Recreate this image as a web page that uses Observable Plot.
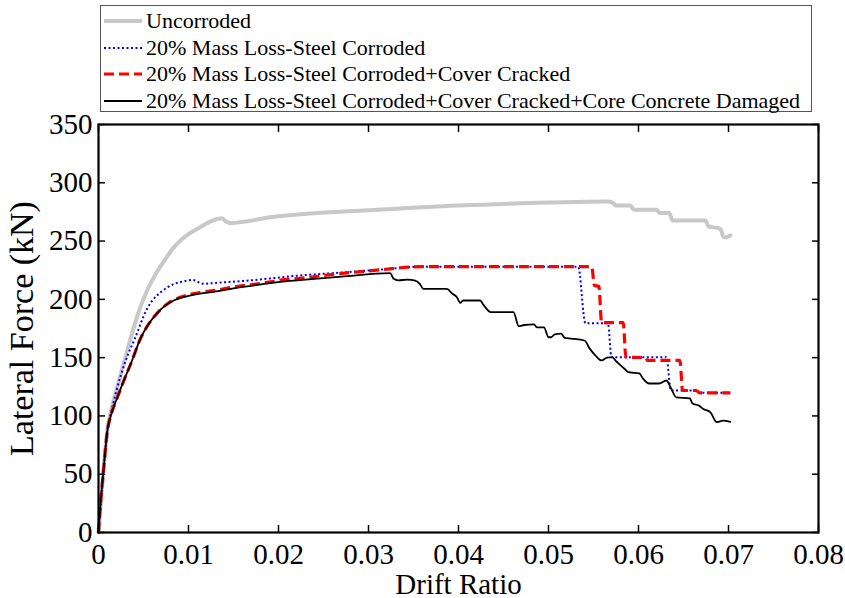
<!DOCTYPE html>
<html>
<head>
<meta charset="utf-8">
<script src="https://cdn.jsdelivr.net/npm/d3@7"></script>
<script src="https://cdn.jsdelivr.net/npm/@observablehq/plot@0.6"></script>
<style>
  html, body { margin: 0; padding: 0; background: #fff; }
  #wrap { position: relative; width: 845px; height: 598px; font-family: "Liberation Serif", "Times New Roman", serif; }
  #legend { position: absolute; left: 100px; top: 5px; width: 710px; height: 105px; border: 1px solid #555; background: #fff; box-sizing: content-box; }
  .row { position: absolute; left: 2px; height: 26px; display: flex; align-items: center; font-size: 22px; color: #000; white-space: nowrap; }
  .row svg { width: 40px; height: 10px; margin-right: 3px; flex: none; }
</style>
</head>
<body>
<div id="wrap"><div id="chart"></div><div id="legend"></div></div>
<script>
// ---- Data ----
const seriesNames = [
  "Uncorroded",
  "20% Mass Loss-Steel Corroded",
  "20% Mass Loss-Steel Corroded+Cover Cracked",
  "20% Mass Loss-Steel Corroded+Cover Cracked+Core Concrete Damaged"
];
const xTicks = [0, 0.01, 0.02, 0.03, 0.04, 0.05, 0.06, 0.07, 0.08];
const xTickLabels = ["0", "0.01", "0.02", "0.03", "0.04", "0.05", "0.06", "0.07", "0.08"];
const yTicks = [0, 50, 100, 150, 200, 250, 300, 350];

const uncDrift = [0, 0.0006, 0.001, 0.0015, 0.0021, 0.0028, 0.0036, 0.0045, 0.0054, 0.0063, 0.0073, 0.0082, 0.0091, 0.01, 0.011, 0.012, 0.0132, 0.0137, 0.0142, 0.0147, 0.0165, 0.0187, 0.0224, 0.03, 0.04, 0.05, 0.0565, 0.0571, 0.0575, 0.0591, 0.0595, 0.062, 0.0624, 0.0634, 0.0638, 0.0674, 0.0678, 0.0689, 0.0692, 0.0694, 0.0697, 0.0702];
const uncForce = [0, 58, 89, 108, 125, 145, 167.5, 190, 207.6, 221, 233, 243, 250.5, 256, 260.5, 265, 269, 269.5, 266.5, 265.3, 267, 270, 273, 276.5, 280.5, 283, 284, 283, 280.5, 280.5, 276.8, 276.8, 274, 274, 267.7, 267.7, 262.5, 261, 259, 254, 253, 254.8];

const steelDrift = [0, 0.0006, 0.001, 0.0014, 0.002, 0.003, 0.0041, 0.0054, 0.0062, 0.0069, 0.0084, 0.0095, 0.0104, 0.0108, 0.0113, 0.0117, 0.0128, 0.0165, 0.0224, 0.027, 0.0313, 0.0358, 0.045, 0.0533, 0.0541, 0.0566, 0.057, 0.0631, 0.0636, 0.0664, 0.0668, 0.0702];
const steelForce = [0, 58, 89, 103, 122, 147, 167.5, 192, 201, 206, 213.3, 215.5, 216.7, 216, 214, 213.3, 214, 216, 220.5, 223, 225.5, 228, 228, 228, 179.6, 179.6, 150.4, 150.4, 121.8, 121.8, 119.8, 119.8];

const coverDrift = [0, 0.0002, 0.0006, 0.001, 0.0014, 0.0021, 0.0028, 0.0036, 0.0047, 0.0055, 0.0065, 0.0073, 0.008, 0.009, 0.01, 0.0113, 0.0128, 0.015, 0.0187, 0.0202, 0.0224, 0.025, 0.0313, 0.0358, 0.045, 0.0548, 0.0551, 0.0556, 0.0559, 0.0583, 0.0586, 0.0608, 0.061, 0.0646, 0.0649, 0.0664, 0.0668, 0.0702];
const coverForce = [0, 22, 57, 88, 101, 116, 130, 145, 167, 178, 188, 194, 198, 201.5, 204, 206, 207.5, 210.5, 214.5, 216.5, 218, 220.5, 225.3, 228, 228, 228, 212, 211, 180, 180, 150.4, 150, 147.6, 147.6, 121.8, 121.8, 119.8, 119.8];

const coreDrift = [0, 0.0002, 0.0006, 0.001, 0.0014, 0.0021, 0.0028, 0.0036, 0.0047, 0.0055, 0.0065, 0.0073, 0.008, 0.009, 0.01, 0.0113, 0.0128, 0.015, 0.0187, 0.0202, 0.0224, 0.027, 0.0324, 0.0328, 0.0333, 0.0343, 0.0352, 0.0357, 0.0361, 0.0387, 0.0393, 0.0398, 0.0402, 0.0405, 0.0424, 0.0428, 0.0436, 0.0461, 0.0467, 0.0473, 0.0484, 0.0487, 0.0495, 0.05, 0.0503, 0.0507, 0.0514, 0.0518, 0.0525, 0.054, 0.0546, 0.0552, 0.0559, 0.0565, 0.0571, 0.0575, 0.0578, 0.0585, 0.0589, 0.0601, 0.0605, 0.0612, 0.0623, 0.0631, 0.0636, 0.0642, 0.0657, 0.066, 0.0667, 0.0672, 0.068, 0.0687, 0.0694, 0.0702];
const coreForce = [0, 22, 57, 88, 101, 116, 130, 145, 167, 178, 188, 194, 197.5, 201, 203, 205, 206.5, 209.5, 213.5, 215, 216.5, 219.5, 222.5, 217.6, 216.2, 217, 216, 213.3, 209, 209, 205, 202, 197, 199, 199, 195, 189, 189, 177, 178, 178.5, 176, 176, 167.5, 167.5, 170, 170.6, 167, 166.4, 164.7, 157.5, 152, 147.6, 150, 150.4, 147, 144.8, 140, 137.5, 136.4, 132, 127.8, 127.8, 130.4, 124, 116, 115, 110.6, 109, 106, 103, 94.6, 96, 95];

// ---- Styles ----
const styles = [
  {stroke: "#c8c8c8", strokeWidth: 4, dash: null},
  {stroke: "#0000ff", strokeWidth: 2, dash: "2,2.5"},
  {stroke: "#ff0000", strokeWidth: 3.2, dash: "10,5"},
  {stroke: "#000000", strokeWidth: 1.8, dash: null}
];

const toRows = (xs, ys) => xs.map((x, i) => ({x, y: ys[i]}));
const series = [
  toRows(uncDrift, uncForce),
  toRows(steelDrift, steelForce),
  toRows(coverDrift, coverForce),
  toRows(coreDrift, coreForce)
];

const fmtX = d => xTickLabels[xTicks.indexOf(d)] ?? String(d);

const lineMarks = series.map((data, i) => Plot.line(data, {
  x: "x", y: "y",
  curve: "monotone-x",
  stroke: styles[i].stroke,
  strokeWidth: styles[i].strokeWidth,
  strokeDasharray: styles[i].dash,
  strokeLinejoin: "round",
  strokeLinecap: styles[i].dash ? "butt" : "round"
}));

const chart = Plot.plot({
  width: 845,
  height: 598,
  marginTop: 124,
  marginLeft: 98,
  marginRight: 27,
  marginBottom: 66,
  style: {fontFamily: "'Liberation Serif', 'Times New Roman', serif", fontSize: "29px", color: "#000", background: "#fff", overflow: "visible"},
  x: {domain: [0, 0.08]},
  y: {domain: [0, 350]},
  marks: [
    ...lineMarks,
    Plot.axisX({ticks: xTicks, tickFormat: fmtX, tickSize: -7, tickPadding: 18, strokeWidth: 1.5, label: null}),
    Plot.axisX({anchor: "top", ticks: xTicks, tickFormat: () => "", tickSize: -7, strokeWidth: 1.5, label: null}),
    Plot.axisY({ticks: yTicks, tickSize: -7, tickPadding: 13, strokeWidth: 1.5, label: null}),
    Plot.axisY({anchor: "right", ticks: yTicks, tickFormat: () => "", tickSize: -7, strokeWidth: 1.5, label: null}),
    Plot.axisX({ticks: [], label: "Drift Ratio", labelAnchor: "center", labelOffset: 61, labelArrow: "none", fontSize: 29, dx: -5}),
    Plot.axisY({ticks: [], label: "Lateral Force (kN)", labelAnchor: "center", labelOffset: 90, labelArrow: "none", fontSize: 34, dx: -8}),
    Plot.frame({stroke: "#000", strokeWidth: 2.2})
  ]
});
document.getElementById("chart").appendChild(chart);

// ---- Legend ----
const legend = document.getElementById("legend");
seriesNames.forEach((name, i) => {
  const row = document.createElement("div");
  row.className = "row";
  row.style.top = (2 + i * 26.7) + "px";
  const s = styles[i];
  row.innerHTML = `<svg viewBox="0 0 40 10"><line x1="1" y1="5" x2="39" y2="5" stroke="${s.stroke}" stroke-width="${s.strokeWidth}" ${s.dash ? `stroke-dasharray="${s.dash}"` : ""}/></svg><span></span>`;
  row.querySelector("span").textContent = name;
  legend.appendChild(row);
});
</script>
</body>
</html>
